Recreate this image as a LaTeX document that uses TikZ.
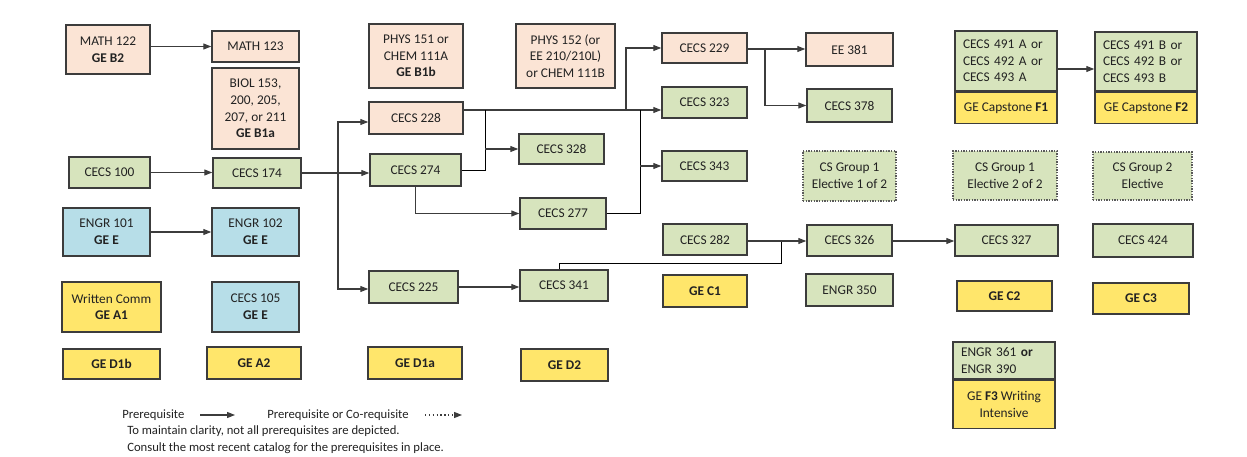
\documentclass[tikz,border=0pt]{standalone}
\usepackage{fontspec}
\setmainfont{Carlito}
\usetikzlibrary{arrows.meta}
\usetikzlibrary{positioning}

\definecolor{cPeach}{HTML}{FBE4D5}
\definecolor{cGreen}{HTML}{D7E4BD}
\definecolor{cBlue}{HTML}{B7DEE8}
\definecolor{cYellow}{HTML}{FFE66B}
\definecolor{cEdge}{HTML}{3C3C3C}
\definecolor{cText}{HTML}{222222}

\tikzset{
  crs/.style={draw=cEdge, line width=1.1pt, inner sep=0pt, align=center, text=cText, font=\fontsize{10}{12.5}\selectfont},
  peach/.style={crs, fill=cPeach},
  grn/.style={crs, fill=cGreen},
  blu/.style={crs, fill=cBlue},
  yel/.style={crs, fill=cYellow},
  elec/.style={grn, draw=cEdge!85, line width=0.9pt, dash pattern=on 0.9pt off 1.1pt},
  capup/.style={align=left, text width=64.5pt, inner xsep=6pt},
  wh/.style 2 args={minimum width=#1*0.75pt, minimum height=#2*0.75pt},
  pre/.style={draw=cEdge, line width=0.9pt, -{Triangle[length=6pt,width=4.5pt]}},
  legend/.style={inner sep=0pt, text=cText, font=\fontsize{9.5}{11}\selectfont},
}

\begin{document}
\begin{tikzpicture}[x=0.75pt,y=0.75pt,yscale=-1,xscale=1]
\useasboundingbox (0,0) rectangle (1247,457);

%Column 1
\node[peach,wh={84}{49}] (math122) at (108,49.5) {MATH 122\\\textbf{GE B2}};
\node[grn,wh={81}{31}] (cecs100) at (109.5,172.5) {CECS 100};
\node[blu,wh={87}{48}] (engr101) at (106.5,232) {ENGR 101\\\textbf{GE E}};
\node[yel,wh={99}{50}] (wcomm) at (111.5,307) {Written Comm\\\textbf{GE A1}};
\node[yel,wh={97}{30}] (ged1b) at (111.5,364) {\textbf{GE D1b}};
%Column 2
\node[peach,wh={87}{31}] (math123) at (255.5,46.5) {MATH 123};
\node[peach,wh={87}{81}] (biol) at (255.5,108.5) {BIOL 153,\\200, 205,\\207, or 211\\\textbf{GE B1a}};
\node[grn,wh={88}{30}] (cecs174) at (257,173) {CECS 174};
\node[blu,wh={87}{48}] (engr102) at (255.5,232) {ENGR 102\\\textbf{GE E}};
\node[blu,wh={87}{50}] (cecs105) at (255.5,307) {CECS 105\\\textbf{GE E}};
\node[yel,wh={94}{32}] (gea2) at (254,363) {\textbf{GE A2}};
%Column 3
\node[peach,wh={94}{64}] (phys151) at (416,56) {PHYS 151 or\\CHEM 111A\\\textbf{GE B1b}};
\node[peach,wh={94}{32}] (cecs228) at (416,118) {CECS 228};
\node[grn,wh={91}{32}] (cecs274) at (415.5,170) {CECS 274};
\node[grn,wh={89}{32}] (cecs225) at (413.5,287) {CECS 225};
\node[yel,wh={94}{32}] (ged1a) at (415,363) {\textbf{GE D1a}};
%Column 4
\node[peach,wh={99}{64}] (phys152) at (565.5,56) {PHYS 152 (or\\EE 210/210L)\\or CHEM 111B};
\node[grn,wh={85}{30}] (cecs328) at (561.5,149) {CECS 328};
\node[grn,wh={86}{31}] (cecs277) at (563,213.5) {CECS 277};
\node[grn,wh={88}{31}] (cecs341) at (564,285.5) {CECS 341};
\node[yel,wh={87}{32}] (ged2) at (564.5,365) {\textbf{GE D2}};
%Column 5
\node[peach,wh={85}{30}] (cecs229) at (704.5,48) {CECS 229};
\node[grn,wh={85}{31}] (cecs323) at (704.5,102.5) {CECS 323};
\node[grn,wh={85}{30}] (cecs343) at (704.5,166) {CECS 343};
\node[grn,wh={84}{31}] (cecs282) at (705,239.5) {CECS 282};
\node[yel,wh={84}{32}] (gec1) at (705,291) {\textbf{GE C1}};
%Column 6
\node[peach,wh={87}{33}] (ee381) at (849.5,49.5) {EE 381};
\node[grn,wh={85}{33}] (cecs378) at (849.5,105.5) {CECS 378};
\node[elec,wh={93}{50}] (elec1) at (849.5,176) {CS Group 1\\Elective 1 of 2};
\node[grn,wh={85}{31}] (cecs326) at (849.5,240.5) {CECS 326};
\node[grn,wh={87}{32}] (engr350) at (849.5,290) {ENGR 350};
%Column 7
\node[grn,capup,wh={102}{60}] (cecs491a) at (1006,61) {CECS 491 A or\\CECS 492 A or\\CECS 493 A};
\node[yel,wh={102}{31},below=0pt of cecs491a] (capf1) {GE Capstone \textbf{F1}};
\node[elec,wh={104}{49}] (elec2) at (1005,175.5) {CS Group 1\\Elective 2 of 2};
\node[grn,wh={103}{31}] (cecs327) at (1006.5,240.5) {CECS 327};
\node[yel,wh={95}{30}] (gec2) at (1004.5,296) {\textbf{GE C2}};
\node[grn,capup,wh={102}{37}] (engr361) at (1004,360.5) {ENGR 361 \textbf{or}\\ENGR 390};
\node[yel,wh={102}{48},below=0pt of engr361] (gef3) {GE \textbf{F3} Writing\\Intensive};
%Column 8
\node[grn,capup,wh={102}{59}] (cecs491b) at (1146,61.5) {CECS 491 B or\\CECS 492 B or\\CECS 493 B};
\node[yel,wh={102}{31},below=0pt of cecs491b] (capf2) {GE Capstone \textbf{F2}};
\node[elec,wh={99}{48}] (elec3) at (1142.5,176) {CS Group 2\\Elective};
\node[grn,wh={100}{33}] (cecs424) at (1143,240.5) {CECS 424};
\node[yel,wh={96}{31}] (gec3) at (1141,298.5) {\textbf{GE C3}};

%Junctions
\coordinate (j174) at (338,173);
\coordinate (o228) at ([yshift=-6pt]cecs228.east);
\coordinate (t328) at (485,110);
\coordinate (t229) at (626,110);
\coordinate (t343) at (640,110);
\coordinate (j229) at (765,49);
\coordinate (j326) at (781,241);
\coordinate (k326) at (781,263);

%Prerequisite lines
\draw[pre] (math122.east |- math123.west) -- (math123.west);
\draw[pre] (cecs100.east) -- (cecs100.east -| cecs174.west);
\draw[pre] (engr101.east) -- (engr102.west);
\draw[pre] (cecs174.east) -- (cecs174.east -| cecs274.west);
\draw[pre] (j174) |- ([yshift=3pt]cecs228.west);
\draw[pre] (j174) |- ([yshift=1.5pt]cecs225.west);
\draw[pre] (o228) -- (o228 -| cecs323.west);
\draw (cecs274.east) -| (t328);
\draw[pre] (t328 |- cecs328.west) -- (cecs328.west);
\draw[pre] (t229) |- (cecs229.west);
\draw[pre] (cecs274.south) |- (cecs277.west);
\draw (cecs277.east) -| (t343);
\draw[pre] (t343 |- cecs343.west) -- (cecs343.west);
\draw[pre] (cecs229.east |- j229) -- (j229 -| ee381.west);
\draw[pre] (j229) |- (cecs378.west);
\draw[pre] (cecs225.east) -- (cecs225.east -| cecs341.west);
\draw ([xshift=-3.75pt]cecs341.north) |- (k326) -- (j326);
\draw[pre] (cecs282.east |- j326) -- (j326 -| cecs326.west);
\draw[pre] (cecs326.east |- j326) -- (j326 -| cecs327.west);
\draw[pre] ([yshift=6pt]cecs491a.east) -- ([yshift=6pt]cecs491a.east -| cecs491b.west);

%Legend
\node[legend,anchor=west] (lgpre) at (122,415) {Prerequisite};
\coordinate (lga) at (200,415);
\coordinate (lgb) at (235,415);
\draw[pre] (lga) -- (lgb);
\node[legend,anchor=west] (lgco) at (267,415) {Prerequisite or Co-requisite};
\coordinate (lgc) at (425,415);
\coordinate (lgd) at (462,415);
\draw[pre,dotted] (lgc) -- (lgd);
\node[legend,anchor=west] (lgnote) at (127,431) {To maintain clarity, not all prerequisites are depicted.};
\node[legend,anchor=west] (lgcat) at (127,448) {Consult the most recent catalog for the prerequisites in place.};

\end{tikzpicture}
\end{document}
